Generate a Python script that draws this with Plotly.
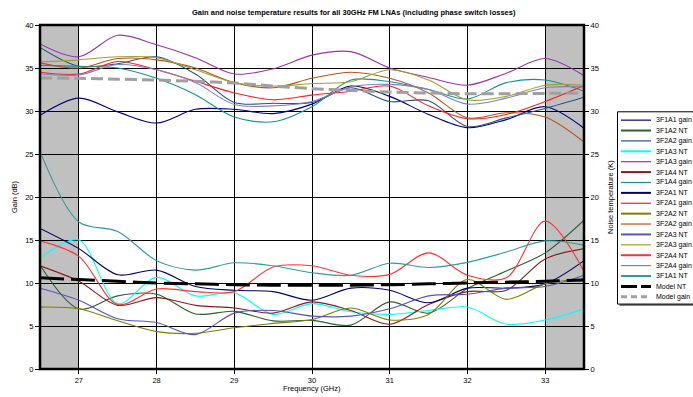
import plotly.graph_objects as go

# ---------------- data ----------------
freq_ghz = [26.5, 27.0, 27.5, 28.0, 28.5, 29.0, 29.5, 30.0, 30.5, 31.0, 31.5, 32.0, 32.5, 33.0, 33.5]

gain_3F1A1 = [29.5, 31.5, 29.9, 28.6, 30.2, 30.2, 29.7, 30.8, 32.9, 31.7, 29.6, 28.05, 29.0, 30.5, 28.0]
nt_3F1A2 = [12.1, 7.0, 8.5, 8.7, 6.4, 6.7, 5.6, 5.65, 5.1, 7.8, 6.5, 9.35, 11.4, 13.5, 17.3]
gain_3F2A2_a = [37.4, 35.2, 35.5, 36.3, 34.3, 31.0, 30.9, 31.0, 32.7, 31.1, 31.2, 28.2, 29.2, 30.3, 31.6]
nt_3F1A3 = [12.9, 15.0, 7.6, 10.65, 8.5, 8.85, 6.35, 7.6, 6.65, 6.35, 6.8, 7.2, 5.2, 5.7, 7.0]
gain_3F1A3 = [37.8, 36.3, 38.8, 37.7, 36.2, 34.3, 34.9, 36.5, 36.9, 35.0, 33.9, 33.0, 34.4, 36.1, 34.1]
nt_3F1A4 = [12.0, 10.2, 7.4, 8.3, 7.4, 7.1, 6.5, 7.8, 6.8, 5.2, 7.5, 9.0, 9.15, 12.8, 14.0]
gain_3F1A4 = [35.3, 35.2, 35.0, 33.8, 31.9, 29.3, 28.75, 30.5, 33.6, 33.4, 32.5, 31.4, 33.3, 33.6, 32.3]
nt_3F2A1 = [16.35, 14.0, 10.96, 11.5, 9.6, 9.15, 9.0, 8.0, 9.4, 9.15, 7.7, 9.4, 9.4, 9.9, 12.6]
gain_3F2A1 = [34.5, 34.3, 35.75, 34.8, 33.45, 32.1, 31.3, 31.85, 32.3, 32.9, 30.6, 29.1, 29.6, 31.1, 32.95]
nt_3F2A2 = [7.2, 7.0, 5.6, 4.35, 4.15, 4.8, 5.3, 5.75, 7.1, 5.7, 6.35, 10.4, 8.1, 9.9, 10.5]
gain_3F2A2_b = [35.6, 35.0, 36.1, 35.95, 35.0, 33.3, 32.7, 33.8, 34.5, 33.8, 32.1, 29.2, 29.8, 29.3, 26.4]
nt_3F2A3 = [9.4, 8.0, 5.85, 5.4, 4.0, 6.5, 6.8, 6.15, 6.15, 7.0, 8.5, 8.7, 9.4, 9.6, 10.9]
gain_3F2A3 = [35.7, 35.95, 36.3, 36.2, 34.8, 33.3, 32.9, 33.2, 33.4, 34.8, 33.6, 31.3, 31.7, 33.0, 33.0]
nt_3F2A4 = [14.9, 13.1, 7.5, 9.3, 9.0, 9.0, 11.85, 12.0, 10.9, 11.0, 13.5, 10.9, 10.6, 17.2, 11.35]
gain_3F2A4 = [34.3, 34.2, 35.4, 34.8, 33.3, 30.75, 30.6, 31.1, 32.8, 33.1, 32.5, 30.8, 31.5, 32.7, 32.8]
nt_3F1A1 = [25.3, 17.1, 16.0, 12.6, 11.5, 12.35, 12.0, 11.2, 10.9, 12.3, 11.8, 12.4, 13.6, 14.9, 14.4]
model_nt = [10.6, 10.4, 10.2, 10.0, 9.9, 9.8, 9.75, 9.75, 9.75, 9.8, 9.9, 10.0, 10.1, 10.2, 10.35]
model_gain = [33.85, 33.8, 33.7, 33.6, 33.45, 33.25, 32.9, 32.6, 32.4, 32.2, 32.1, 32.0, 32.0, 32.05, 32.1]

x_ticks = [27, 28, 29, 30, 31, 32, 33]
y_ticks = [0, 5, 10, 15, 20, 25, 30, 35, 40]
band_edges = [(26.5, 27.0), (33.0, 33.5)]

series_names = ["3F1A1 gain", "3F1A2 NT", "3F2A2 gain", "3F1A3 NT", "3F1A3 gain", "3F1A4 NT",
                "3F1A4 gain", "3F2A1 NT", "3F2A1 gain", "3F2A2 NT", "3F2A2 gain", "3F2A3 NT",
                "3F2A3 gain", "3F2A4 NT", "3F2A4 gain", "3F1A1 NT", "Model NT", "Model gain"]
series_values = [gain_3F1A1, nt_3F1A2, gain_3F2A2_a, nt_3F1A3, gain_3F1A3, nt_3F1A4,
                 gain_3F1A4, nt_3F2A1, gain_3F2A1, nt_3F2A2, gain_3F2A2_b, nt_3F2A3,
                 gain_3F2A3, nt_3F2A4, gain_3F2A4, nt_3F1A1, model_nt, model_gain]
series_colors = ["#000080", "#2F5F2F", "#24527F", "#00FFFF", "#9933AA", "#8B1A1A",
                 "#1A9090", "#000066", "#FF2020", "#7F7F00", "#B5541F", "#5555BB",
                 "#A0A030", "#FF3333", "#8080C0", "#339999", "#000000", "#A0A0A0"]

# ---------------- geometry (pixels) ----------------
W, H = 693, 397
L, R, T, B = 40, 584, 25, 371
pw, ph = R - L, B - T
FONT = "Liberation Sans, Arial, sans-serif"


def px_x(p):
    return (p - L) / pw


def px_y(p):
    return (B - p) / ph


fig = go.Figure()

for name, vals, col in zip(series_names, series_values, series_colors):
    is_gain = "gain" in name
    is_model = name.startswith("Model")
    line = dict(color=col, width=1.1, shape="spline", smoothing=0.9)
    if is_model:
        line["width"] = 3
        line["dash"] = "24px,7px" if name == "Model NT" else "12px,5px"
    fig.add_trace(go.Scatter(
        x=freq_ghz, y=vals, name=name, mode="lines", line=line,
        yaxis="y" if is_gain else "y2", showlegend=False, hoverinfo="skip"))

shapes = []
for x0, x1 in band_edges:
    shapes.append(dict(type="rect", xref="x", yref="paper", x0=x0, x1=x1, y0=0, y1=1,
                       fillcolor="#C0C0C0", line=dict(width=0), layer="below"))
# plot border
shapes.append(dict(type="rect", xref="paper", yref="paper", x0=0, x1=1, y0=0, y1=1,
                   line=dict(color="#000000", width=2.5), layer="above"))

# custom compact legend
leg_left, leg_top, leg_bot = 617.5, 112.3, 305.7
shapes.append(dict(type="rect", xref="paper", yref="paper",
                   x0=px_x(leg_left + 2), x1=px_x(705), y0=px_y(leg_bot + 2), y1=px_y(leg_top + 2),
                   fillcolor="#808080", line=dict(width=0)))
shapes.append(dict(type="rect", xref="paper", yref="paper",
                   x0=px_x(leg_left), x1=px_x(703), y0=px_y(leg_bot), y1=px_y(leg_top),
                   fillcolor="#FFFFFF", line=dict(color="#000000", width=1)))

annotations = []
step = 10.45
for i, (name, col) in enumerate(zip(series_names, series_colors)):
    yy = 120.7 + i * step
    is_model = name.startswith("Model")
    ln = dict(color=col, width=3 if is_model else (1.2 if "gain" in name else 2))
    if name == "Model NT":
        ln["dash"] = "16px,4px"
    elif name == "Model gain":
        ln["dash"] = "6px,4px"
    shapes.append(dict(type="line", xref="paper", yref="paper",
                       x0=px_x(621), x1=px_x(651), y0=px_y(yy), y1=px_y(yy), line=ln))
    annotations.append(dict(text=name, xref="paper", yref="paper", x=px_x(654), y=px_y(yy),
                            xanchor="left", yanchor="middle", showarrow=False,
                            font=dict(family=FONT, size=7, color="#000000")))

annotations += [
    dict(text="<b>Gain and noise temperature results for all 30GHz FM LNAs (including phase switch losses)</b>",
         xref="paper", yref="paper", x=px_x(354), y=px_y(12), xanchor="center", yanchor="middle",
         showarrow=False, font=dict(family=FONT, size=7.5, color="#000000")),
    dict(text="Gain (dB)", xref="paper", yref="paper", x=px_x(14), y=px_y(198), textangle=-90,
         xanchor="center", yanchor="middle", showarrow=False,
         font=dict(family=FONT, size=7.5, color="#000000")),
    dict(text="Noise temperature (K)", xref="paper", yref="paper", x=px_x(610), y=px_y(198), textangle=-90,
         xanchor="center", yanchor="middle", showarrow=False,
         font=dict(family=FONT, size=7.5, color="#000000")),
    dict(text="Frequency (GHz)", xref="paper", yref="paper", x=px_x(312), y=px_y(391),
         xanchor="center", yanchor="middle", showarrow=False,
         font=dict(family=FONT, size=7.5, color="#000000")),
]

tickfont = dict(family=FONT, size=7.5, color="#000000")
fig.update_layout(
    width=W, height=H,
    margin=dict(l=L, r=W - R, t=T, b=H - B, pad=0),
    paper_bgcolor="#FFFFFF", plot_bgcolor="#FFFFFF",
    showlegend=False,
    xaxis=dict(range=[26.5, 33.5], tickvals=x_ticks, ticks="outside", ticklen=4, tickcolor="#000",
               showgrid=True, gridcolor="#000000", gridwidth=1, zeroline=False, tickfont=tickfont,
               showline=False),
    yaxis=dict(range=[0, 40], tickvals=y_ticks, ticks="outside", ticklen=4, tickcolor="#000",
               showgrid=True, gridcolor="#000000", gridwidth=1, zeroline=False, tickfont=tickfont,
               showline=False),
    yaxis2=dict(range=[0, 40], tickvals=y_ticks, ticks="outside", ticklen=4, tickcolor="#000",
                overlaying="y", side="right", showgrid=False, zeroline=False, tickfont=tickfont,
                showline=False),
    shapes=shapes,
    annotations=annotations,
)

fig.write_html("out.html", config={"displayModeBar": False, "staticPlot": True},
               post_script="document.body.style.margin='0';document.body.style.overflow='hidden';")
